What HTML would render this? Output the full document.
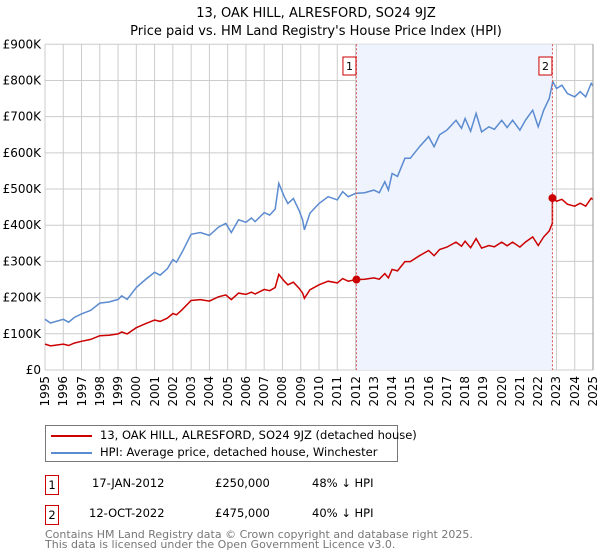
<!DOCTYPE html>
<html><head><meta charset="utf-8">
<style>
body{margin:0;background:#fff;font-family:"DejaVu Sans","Liberation Sans",sans-serif;}
#wrap{position:relative;width:600px;height:560px;overflow:hidden;}
.t{position:absolute;white-space:nowrap;color:#000;}
.vl{position:absolute;top:376px;font-size:12px;writing-mode:vertical-rl;transform:rotate(180deg);line-height:12px;}
</style></head>
<body>
<div id="wrap">
<svg id="chart" width="600" height="420" style="position:absolute;left:0;top:0" font-family="DejaVu Sans, Liberation Sans, sans-serif">
<text x="316" y="17" text-anchor="middle" font-size="13">13, OAK HILL, ALRESFORD, SO24 9JZ</text>
<text x="316" y="35" text-anchor="middle" font-size="13">Price paid vs. HM Land Registry's House Price Index (HPI)</text>
<g id="grid"></g><g id="shade"></g><g id="lines"></g><g id="axes"></g>
</svg>
<div id="xlabels"></div>
<div class="t" style="left:45px;top:425px;width:351px;height:35px;border:1px solid #777;">
 <div style="position:absolute;left:5px;top:9px;width:41px;height:2px;background:#cc0000"></div>
 <div class="t" style="left:54px;top:2px;font-size:11.5px">13, OAK HILL, ALRESFORD, SO24 9JZ (detached house)</div>
 <div style="position:absolute;left:5px;top:26px;width:41px;height:2px;background:#5b8bd0"></div>
 <div class="t" style="left:54px;top:19px;font-size:11.5px">HPI: Average price, detached house, Winchester</div>
</div>
<div class="t" style="left:45px;top:475px;width:12px;height:18px;border:1px solid #cc0000;font-size:11.5px;text-align:center;line-height:18px">1</div>
<div class="t" style="left:92px;top:476px;font-size:11.5px">17-JAN-2012</div>
<div class="t" style="left:215px;top:476px;font-size:11.5px">£250,000</div>
<div class="t" style="left:312px;top:476px;font-size:11.5px">48% ↓ HPI</div>
<div class="t" style="left:45px;top:505px;width:12px;height:18px;border:1px solid #cc0000;font-size:11.5px;text-align:center;line-height:18px">2</div>
<div class="t" style="left:89px;top:506px;font-size:11.5px">12-OCT-2022</div>
<div class="t" style="left:215px;top:506px;font-size:11.5px">£475,000</div>
<div class="t" style="left:312px;top:506px;font-size:11.5px">40% ↓ HPI</div>
<div class="t" style="left:45px;top:530px;font-size:11px;color:#777;line-height:10px">Contains HM Land Registry data © Crown copyright and database right 2025.<br>This data is licensed under the Open Government Licence v3.0.</div>
</div>
<script>
const hpiYears=[1995,1995.3,1996,1996.3,1996.6,1997,1997.5,1998,1998.5,1999,1999.2,1999.5,2000,2000.5,2001,2001.3,2001.7,2002,2002.2,2002.5,2003,2003.5,2004,2004.5,2004.9,2005.2,2005.6,2006,2006.3,2006.5,2007,2007.3,2007.6,2007.8,2008.1,2008.3,2008.6,2008.9,2009.1,2009.2,2009.5,2010,2010.5,2011,2011.3,2011.6,2012,2012.5,2013,2013.3,2013.6,2013.8,2014,2014.3,2014.7,2015,2015.5,2016,2016.3,2016.6,2017,2017.5,2017.8,2018,2018.3,2018.6,2018.9,2019.3,2019.6,2020,2020.3,2020.6,2021,2021.3,2021.7,2022,2022.3,2022.6,2022.8,2023,2023.3,2023.6,2024,2024.3,2024.6,2024.9,2025];
const hpiValues=[140,130,140,132,145,155,165,185,188,195,205,195,228,250,270,262,280,305,298,325,375,380,372,395,405,380,415,408,420,410,435,428,445,516,479,460,474,442,415,387,433,460,479,470,493,479,488,490,497,490,520,497,543,535,585,585,617,645,617,650,663,690,668,695,660,709,658,672,665,690,670,690,663,690,718,672,718,750,797,778,787,764,755,769,755,792,785];
const saleYears=[2012.05,2022.78];
const salePrices=[250,475];
const yTicks=[0,100,200,300,400,500,600,700,800,900];
const yTickLabels=["£0","£100K","£200K","£300K","£400K","£500K","£600K","£700K","£800K","£900K"];
const xTicks=[1995,1996,1997,1998,1999,2000,2001,2002,2003,2004,2005,2006,2007,2008,2009,2010,2011,2012,2013,2014,2015,2016,2017,2018,2019,2020,2021,2022,2023,2024,2025];

const NS="http://www.w3.org/2000/svg";
const X0=45,X1=593,Y0=370,Y1=44.3;
const xs=y=>X0+(y-1995)/30*(X1-X0);
const ys=v=>Y0-v/900*(Y0-Y1);
function mk(tag,attrs,parent){const e=document.createElementNS(NS,tag);for(const k in attrs)e.setAttribute(k,attrs[k]);parent.appendChild(e);return e;}
const grid=document.getElementById('grid'),shade=document.getElementById('shade'),lines=document.getElementById('lines'),axes=document.getElementById('axes');
function hpiAt(t){for(let i=0;i<hpiYears.length-1;i++){if(t>=hpiYears[i]&&t<=hpiYears[i+1]){const f=(t-hpiYears[i])/(hpiYears[i+1]-hpiYears[i]);return hpiValues[i]+f*(hpiValues[i+1]-hpiValues[i]);}}return hpiValues[hpiValues.length-1];}
const sh=mk('rect',{x:xs(saleYears[0]),y:Y1,width:xs(saleYears[1])-xs(saleYears[0]),height:Y0-Y1,fill:'#eef3fd'},shade);


yTicks.forEach((v,i)=>{
 const l=mk('line',{x1:X0,x2:X1,y1:ys(v),y2:ys(v),stroke:'#cccccc','stroke-width':1},grid);
 
 
 const t=mk('text',{x:X0-4,y:ys(v)+4,'text-anchor':'end','font-size':12},axes);
 t.textContent=yTickLabels[i];
 
 
});
const xl=document.getElementById('xlabels');
xTicks.forEach(yr=>{
 const l=mk('line',{x1:xs(yr),x2:xs(yr),y1:Y1,y2:Y0,stroke:'#cccccc','stroke-width':1},grid);
 
 
 const d=document.createElement('div');
 d.className='vl';
 d.style.left=(xs(yr)-6)+'px';
 d.textContent=yr;
 
 
 xl.appendChild(d);
});
let d='';hpiYears.forEach((yr,i)=>{d+=(i?'L':'M')+xs(yr).toFixed(1)+','+ys(hpiValues[i]).toFixed(1);});
const hp=mk('path',{d:d,fill:'none',stroke:'#5b8bd0','stroke-width':1.5},lines);


const r1=salePrices[0]/hpiAt(saleYears[0]),r2=salePrices[1]/hpiAt(saleYears[1]);
let pd='',jumped=false;
hpiYears.forEach((yr,i)=>{
 if(yr>saleYears[1]&&!jumped){
  pd+='L'+xs(saleYears[1]).toFixed(1)+','+ys(hpiAt(saleYears[1])*r1).toFixed(1)+'L'+xs(saleYears[1]).toFixed(1)+','+ys(salePrices[1]).toFixed(1);
  jumped=true;
 }
 const r=yr>saleYears[1]?r2:r1;
 pd+=(i===0?'M':'L')+xs(yr).toFixed(1)+','+ys(hpiValues[i]*r).toFixed(1);
});
const pp=mk('path',{d:pd,fill:'none',stroke:'#cc0000','stroke-width':1.5},lines);


saleYears.forEach((yr,i)=>{
 const v=mk('line',{x1:xs(yr),x2:xs(yr),y1:Y1,y2:Y0,stroke:'#e05555','stroke-width':1,'stroke-dasharray':'2,2'},lines);
 
 
 const c=mk('circle',{cx:xs(yr),cy:ys(salePrices[i]),r:4,fill:'#cc0000'},lines);
 
 
 const b=mk('rect',{x:xs(yr)-13.5,y:57,width:13,height:18,fill:'#fff',stroke:'#cc0000','stroke-width':1},lines);
 
 
 const t=mk('text',{x:xs(yr)-7,y:70,'text-anchor':'middle','font-size':11},lines);
 t.textContent=String(i+1);
 
 
});
const rb=mk('line',{x1:X1,x2:X1,y1:Y1,y2:Y0,stroke:'#999','stroke-width':1},axes);


</script>
</body></html>
